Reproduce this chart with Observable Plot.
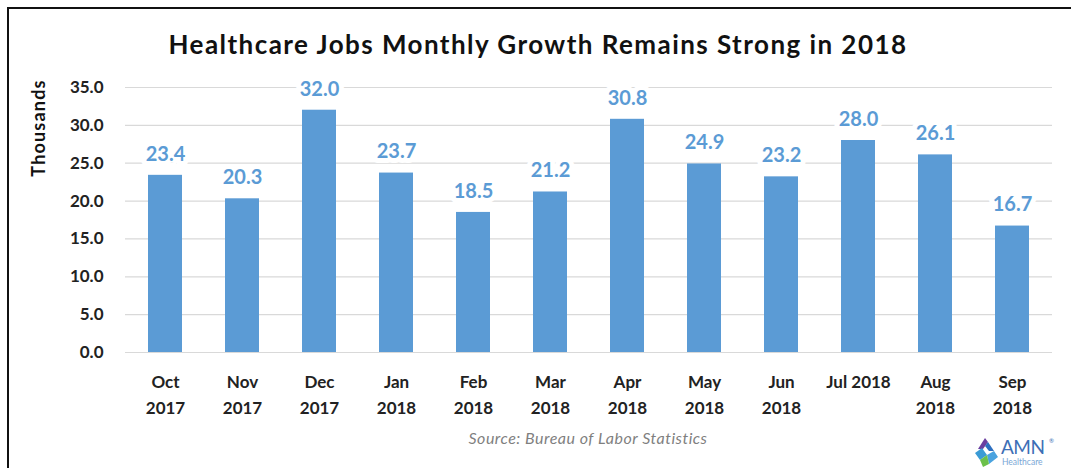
<!DOCTYPE html>
<html>
<head>
<meta charset="utf-8">
<script src="https://cdn.jsdelivr.net/npm/d3@7"></script>
<script src="https://cdn.jsdelivr.net/npm/@observablehq/plot@0.6"></script>
<style>
  html, body { margin: 0; padding: 0; background: #fff; overflow: hidden; }
  body { width: 1071px; height: 468px; position: relative; font-family: Lato, "Open Sans", sans-serif; }
  #frame { position: absolute; left: 7px; top: 7px; width: 1200px; height: 600px; z-index: 5;
           border-top: 2px solid #111; border-left: 2px solid #111; box-sizing: border-box; pointer-events: none; }
  #title { position: absolute; top: 28px; left: 0; width: 1076px; text-align: center; z-index: 2;
           font-size: 26px; font-weight: 700; color: #111; letter-spacing: 1.45px; }
  #ylabel { position: absolute; left: 38px; top: 128px; transform: translate(-50%, -50%) rotate(-90deg); z-index: 2;
            font-size: 18px; font-weight: 700; color: #111; white-space: nowrap; letter-spacing: 1.2px; }
  #chart { position: absolute; left: 0; top: 60px; z-index: 1; }
  #source { position: absolute; top: 428px; left: 0; width: 1176px; text-align: center; z-index: 2;
            font-size: 16px; font-style: italic; color: #7f7f7f; letter-spacing: 0.5px; }
  #logo { position: absolute; left: 974px; top: 437px; z-index: 2; }
  #logo svg { overflow: visible; }
</style>
</head>
<body>
<div id="frame"></div>
<div id="title">Healthcare Jobs Monthly Growth Remains Strong in 2018</div>
<div id="ylabel">Thousands</div>
<div id="chart"></div>
<div id="source">Source: Bureau of Labor Statistics</div>
<div id="logo">
  <svg width="92" height="31" viewBox="0 0 92 31">
    <path d="M11 1 L4 12 L9 12 L14 5 Z" fill="#6b3fa0"/>
    <path d="M14 5 L20 14 L15 14 L11 9 Z" fill="#2d6fc0"/>
    <path d="M1 16 L8 11 L13 18 L6 23 Z" fill="#3a9bd5"/>
    <path d="M13 18 L20 14 L24 20 L15 27 Z" fill="#4aa3df"/>
    <path d="M6 23 L13 18 L15 27 L9 30 Z" fill="#6cc04a"/>
    <text x="27" y="17" font-family="Lato, sans-serif" font-size="19" fill="#3d6fb6" letter-spacing="-0.5">AMN</text>
    <text x="75" y="6" font-family="Lato, sans-serif" font-size="6" fill="#3d6fb6">®</text>
    <text x="28" y="28" font-family="Lato, sans-serif" font-size="8.5" fill="#7aa7d6">Healthcare</text>
  </svg>
</div>
<script>
const months = ["Oct\n2017", "Nov\n2017", "Dec\n2017", "Jan\n2018", "Feb\n2018", "Mar\n2018",
                "Apr\n2018", "May\n2018", "Jun\n2018", "Jul 2018", "Aug\n2018", "Sep\n2018"];
const jobs = [23.4, 20.3, 32.0, 23.7, 18.5, 21.2, 30.8, 24.9, 23.2, 28.0, 26.1, 16.7];
const yTicks = [0, 5, 10, 15, 20, 25, 30, 35];

const data = months.map((m, i) => ({month: m, value: jobs[i]}));

const chart = Plot.plot({
  width: 1071,
  height: 366,
  marginLeft: 125,
  marginRight: 19,
  marginTop: 27,
  marginBottom: 74,
  style: {fontFamily: "Lato, 'Open Sans', sans-serif", fontWeight: "700", color: "#222", background: "transparent", overflow: "visible"},
  x: {domain: months, paddingInner: 0.56, paddingOuter: 0.28, label: null},
  y: {domain: [0, 35], label: null},
  marks: [
    Plot.gridY(yTicks, {stroke: "#d9d9d9", strokeOpacity: 1, strokeWidth: 1.2}),
    Plot.barY(data, {x: "month", y: "value", fill: "#5b9bd5"}),
    Plot.ruleY([0], {stroke: "#d9d9d9", strokeWidth: 1.2}),
    Plot.text(data, {x: "month", y: "value", text: d => d.value.toFixed(1), dy: -21,
                     fill: "#5b9bd5", stroke: "white", strokeWidth: 10, paintOrder: "stroke",
                     fontSize: 20, fontWeight: 700}),
    Plot.axisY(yTicks, {tickSize: 0, tickPadding: 22, tickFormat: d => d.toFixed(1), fontSize: 17, fontWeight: 700, fill: "#222", letterSpacing: 0.8}),
    Plot.axisX({tickSize: 0, tickPadding: 16, fontSize: 17, fontWeight: 700, fill: "#222", lineHeight: 1.58})
  ]
});
document.getElementById("chart").appendChild(chart);
</script>
</body>
</html>
